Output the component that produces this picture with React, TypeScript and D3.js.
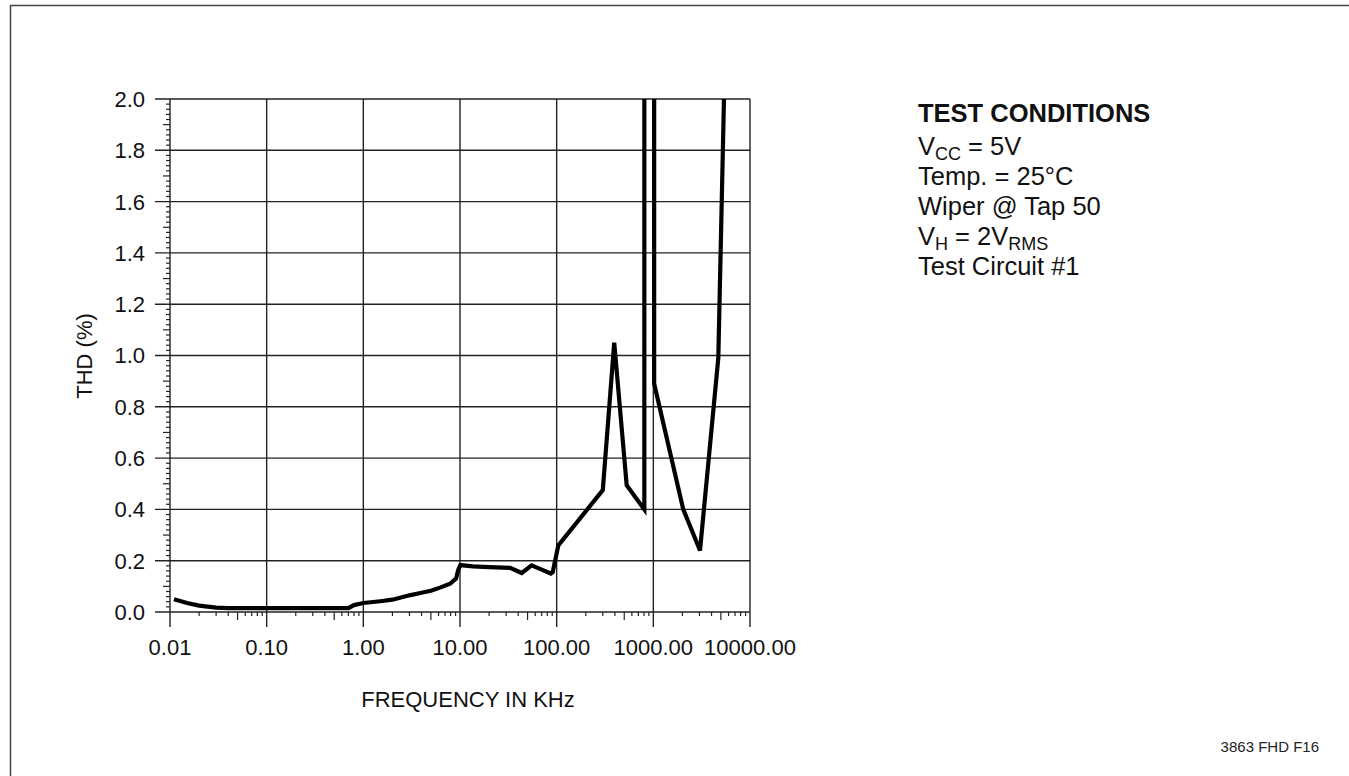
import React from "react";
import * as d3 from "d3";

// ---- data (frequency in kHz, THD in %) ----
const freqKHz = [
  0.011, 0.015, 0.02, 0.03, 0.04, 0.1, 0.3, 0.7, 0.8, 1.0, 1.5, 2.0, 3.0, 4.0, 5.0, 6.2, 7.9, 9.1, 9.6, 10.1,
  13.6, 20, 33, 43.5, 55, 70, 87, 91, 104, 300, 394, 530, 807, 807, 1020, 1020, 2040, 3040, 4700, 5380,
];
const thdPct = [
  0.05, 0.035, 0.025, 0.017, 0.015, 0.015, 0.015, 0.015, 0.027, 0.035, 0.042, 0.048, 0.065, 0.075, 0.083, 0.095,
  0.11, 0.13, 0.165, 0.183, 0.178, 0.175, 0.172, 0.152, 0.182, 0.165, 0.15, 0.155, 0.26, 0.475, 1.05, 0.494, 0.4,
  2.3, 2.3, 0.89, 0.4, 0.24, 0.99, 2.0,
];
const xTickValues = [0.01, 0.1, 1, 10, 100, 1000, 10000];
const xTickLabels = ["0.01", "0.10", "1.00", "10.00", "100.00", "1000.00", "10000.00"];
const yTickValues = [0, 0.2, 0.4, 0.6, 0.8, 1.0, 1.2, 1.4, 1.6, 1.8, 2.0];
const yTickLabels = ["0.0", "0.2", "0.4", "0.6", "0.8", "1.0", "1.2", "1.4", "1.6", "1.8", "2.0"];
const xTitle = "FREQUENCY IN KHz";
const yTitle = "THD (%)";
const figId = "3863 FHD F16";

const FONT = "Arial, 'Liberation Sans', Helvetica, sans-serif";
const GRID = "#222";

export default function App() {
  const x = d3.scaleLog().domain([0.01, 10000]).range([170, 750]);
  const y = d3.scaleLinear().domain([0, 2]).range([612, 99]);
  const x0 = x(0.01), x1 = x(10000), y0 = y(0), y1 = y(2);

  const pts = freqKHz.map((f, i) => [f, thdPct[i]] as [number, number]);
  const line = d3.line<[number, number]>().x((d) => x(d[0])).y((d) => y(d[1])).curve(d3.curveLinear);

  const minorX: { v: number; len: number }[] = [];
  for (let e = -2; e < 4; e++) {
    for (let k = 2; k <= 9; k++) minorX.push({ v: k * Math.pow(10, e), len: k === 5 ? 8 : 4 });
  }
  const minorY: { v: number; len: number }[] = [];
  for (let i = 1; i < 100; i++) {
    if (i % 10 === 0) continue;
    minorY.push({ v: i * 0.02, len: i % 5 === 0 ? 7 : 4 });
  }

  return (
    <svg
      width={1349}
      height={776}
      style={{ position: "absolute", left: 0, top: 0, display: "block", background: "#fff" }}
      fontFamily={FONT}
    >
      <rect x={10.5} y={5.5} width={1400} height={900} fill="none" stroke="#444" strokeWidth={1.5} />
      <defs>
        <clipPath id="plotclip">
          <rect x={x0 - 5} y={y1} width={x1 - x0 + 10} height={y0 - y1 + 5} />
        </clipPath>
      </defs>
      {yTickValues.map((v) => (
        <line key={"h" + v} x1={x0 - 15} x2={x1} y1={y(v)} y2={y(v)} stroke={GRID} strokeWidth={1.4} />
      ))}
      {xTickValues.map((v) => (
        <line key={"v" + v} x1={x(v)} x2={x(v)} y1={y1} y2={y0 + 15} stroke={GRID} strokeWidth={1.4} />
      ))}
      {minorX.map((t) => (
        <line key={"mx" + t.v} x1={x(t.v)} x2={x(t.v)} y1={y0} y2={y0 + t.len} stroke={GRID} strokeWidth={1.2} />
      ))}
      {minorY.map((t) => (
        <line key={"my" + t.v} x1={x0 - t.len} x2={x0} y1={y(t.v)} y2={y(t.v)} stroke={GRID} strokeWidth={1.2} />
      ))}
      {yTickValues.map((v, i) => (
        <text key={"yl" + v} x={145} y={y(v)} dy="0.36em" textAnchor="end" fontSize={22} fill="#111">
          {yTickLabels[i]}
        </text>
      ))}
      {xTickValues.map((v, i) => (
        <text key={"xl" + v} x={x(v)} y={655} textAnchor="middle" fontSize={22} fill="#111">
          {xTickLabels[i]}
        </text>
      ))}
      <text x={468} y={707} textAnchor="middle" fontSize={22} fill="#111">
        {xTitle}
      </text>
      <text transform={`translate(92,356) rotate(-90)`} textAnchor="middle" fontSize={22} fill="#111">
        {yTitle}
      </text>
      <path d={line(pts) || ""} fill="none" stroke="#000" strokeWidth={4.2} clipPath="url(#plotclip)" />
      <g fontSize={25.5} fill="#111">
        <text x={918} y={122} fontWeight="bold">TEST CONDITIONS</text>
        <text x={918} y={155}>
          V<tspan fontSize={18} dy={5}>CC</tspan>
          <tspan dy={-5}> = 5V</tspan>
        </text>
        <text x={918} y={185}>Temp. = 25°C</text>
        <text x={918} y={215}>Wiper @ Tap 50</text>
        <text x={918} y={245}>
          V<tspan fontSize={18} dy={5}>H</tspan>
          <tspan dy={-5}> = 2V</tspan>
          <tspan fontSize={18} dy={5}>RMS</tspan>
        </text>
        <text x={918} y={275}>Test Circuit #1</text>
      </g>
      <text x={1319} y={752} textAnchor="end" fontSize={15} fill="#222">
        {figId}
      </text>
    </svg>
  );
}
